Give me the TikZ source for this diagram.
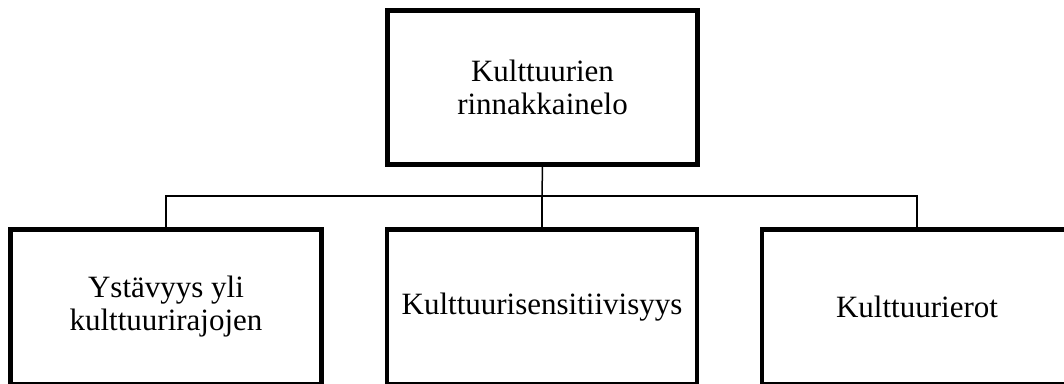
\documentclass[tikz,border=0pt]{standalone}
\usepackage{fontspec}
\setmainfont{Liberation Serif}
\begin{document}
\begin{tikzpicture}[x=1pt,y=-1pt,
  box/.style={draw, line width=4.5pt, inner sep=0pt, outer sep=0pt,
    minimum width=310pt, minimum height=155pt, align=center,
    font=\fontsize{31}{33}\selectfont},
  conn/.style={draw, line width=1.5pt}]
\useasboundingbox (0,0) rectangle (1064,383);
\clip (0,0) rectangle (1064,383);
% top level
\node[box, minimum height=154pt] (top) at (542.5,87.5) {Kulttuurien\\rinnakkainelo};
% second level
\node[box, minimum width=311pt] (left) at (166,307) {Ystävyys yli\\kulttuurirajojen};
\node[box] (mid) at (542,307) {Kulttuurisensitiivisyys};
\node[box] (right) at (917,307) {Kulttuurierot};
% bus line between levels
\coordinate (bus) at (542,196);
\draw[conn] (top.south) -- (bus);
\draw[conn] (mid.north) -- (bus);
\draw[conn] (left.north) |- (bus);
\draw[conn] (right.north) |- (bus);
\end{tikzpicture}
\end{document}
